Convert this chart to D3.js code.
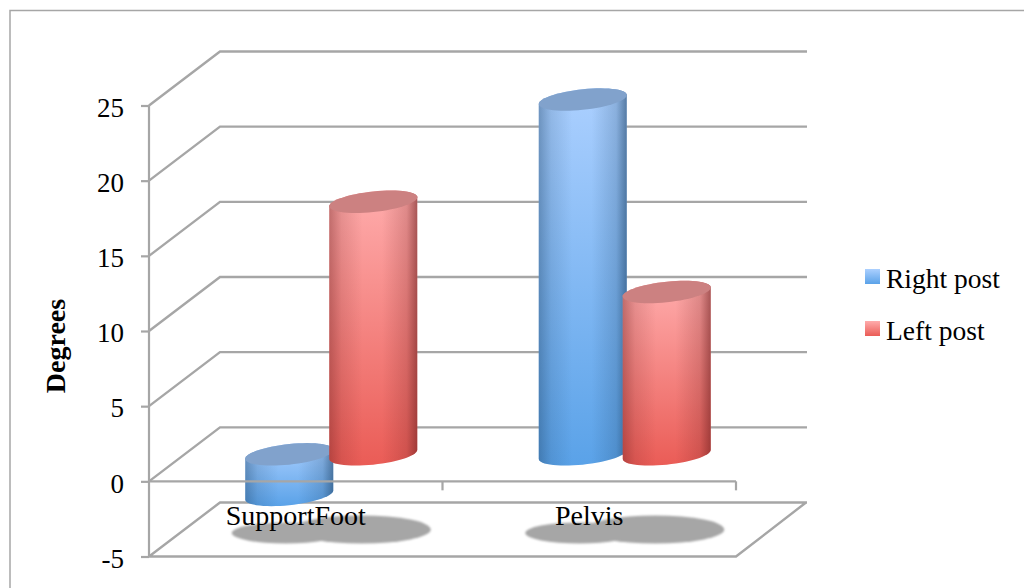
<!DOCTYPE html>
<html>
<head>
<meta charset="utf-8">
<script src="https://cdn.jsdelivr.net/npm/d3@7"></script>
<style>
  html, body { margin: 0; padding: 0; background: #fff; }
  svg { display: block; }
  text { font-family: "Liberation Serif", serif; fill: #000; }
</style>
</head>
<body>
<div id="chart"></div>
<script>
// Values in degrees for each body segment
const categories = ["SupportFoot", "Pelvis"];
const seriesNames = ["Right post", "Left post"];
const rightPost = [-2.7, 23.6];
const leftPost = [16.8, 10.8];
const yTicks = [-5, 0, 5, 10, 15, 20, 25];
const axisTitle = "Degrees";

const width = 1024, height = 588;
const gridColor = "#a6a6a6";

// Oblique projection: the front plane sits at depth 0, the back wall at depth 1
const depthX = 71, depthY = -54;
const y = d3.scaleLinear().domain([-5, 25]).range([556.5, 105.5]);
const x = d3.scaleBand().domain(categories).range([149, 736]);
const seriesOffset = d3.scalePoint().domain(seriesNames).range([-6.5, 77.5]);

const svg = d3.select("#chart").append("svg").attr("width", width).attr("height", height);
const defs = svg.append("defs");

// Vertical colour ramps for the cylinders, and edge-shading ramps per hue
function ramp(id, top, bottom) {
  const g = defs.append("linearGradient").attr("id", id)
    .attr("x1", 0).attr("y1", 0).attr("x2", 0).attr("y2", 1);
  g.append("stop").attr("offset", 0).attr("stop-color", top);
  g.append("stop").attr("offset", 1).attr("stop-color", bottom);
}
ramp("blueBody", "#acd0ff", "#5aa2e8");
ramp("redBody", "#ffacac", "#ea5c56");
function edgeRamp(id, color) {
  const g = defs.append("linearGradient").attr("id", id)
    .attr("x1", 0).attr("y1", 0).attr("x2", 1).attr("y2", 0);
  [[0, 0.42], [0.14, 0.16], [0.38, 0], [0.6, 0], [0.88, 0.22], [1, 0.6]].forEach(([o, a]) => {
    g.append("stop").attr("offset", o).attr("stop-color", color).attr("stop-opacity", a);
  });
}
edgeRamp("blueEdge", "#1f4468");
edgeRamp("redEdge", "#6e2020");
defs.append("filter").attr("id", "soft").attr("x", "-10%").attr("y", "-30%")
  .attr("width", "120%").attr("height", "160%")
  .append("feGaussianBlur").attr("stdDeviation", 0.9);

// Chart frame: top and left edges
svg.append("path").attr("d", "M10,588V10.5H1024")
  .attr("fill", "none").attr("stroke", gridColor).attr("stroke-width", 1.5);

// Gridlines along the side and back walls
const grid = svg.append("g").attr("fill", "none").attr("stroke", gridColor).attr("stroke-width", 2.4);
yTicks.forEach(t => {
  const y0 = y(t);
  const path = d3.path();
  path.moveTo(149, y0);
  path.lineTo(149 + depthX, y0 + depthY);
  path.lineTo(736 + depthX, y0 + depthY);
  if (t === -5) {
    path.moveTo(736 + depthX - 1, y0 + depthY);
    path.lineTo(736, y0);
    path.lineTo(149, y0);
  }
  grid.append("path").attr("d", path.toString());
});

// Vertical axis with tick marks
const yAxis = svg.append("g").attr("transform", "translate(149,0)")
  .call(d3.axisLeft(y).tickValues(yTicks).tickSize(8).tickPadding(17).tickFormat(d => String(d)));
yAxis.selectAll("line,path").attr("stroke", gridColor).attr("stroke-width", 2.2);
yAxis.select(".domain").attr("d", `M0,${y(-5)}V${y(25)}`);
yAxis.selectAll("text").attr("font-size", 27).attr("font-family", "Liberation Serif").attr("dy", "0.4em");

// Cast shadows on the floor
const shadowLayer = svg.append("g").attr("fill", "#a6a6a6").attr("filter", "url(#soft)");
categories.forEach(c => {
  const cx = x(c) + x.bandwidth() / 2;
  shadowLayer.append("ellipse").attr("cx", cx - 10).attr("cy", 533).attr("rx", 54).attr("ry", 10.5);
  shadowLayer.append("ellipse").attr("cx", cx + 66).attr("cy", 529.5).attr("rx", 69).attr("ry", 14);
});

// Cylinder: body between two skewed ellipses, with a flat-coloured cap on the value end
const rx = 44, ry = 10.3, tilt = 4.5;
const baseY = v => y(v) + depthY / 2;
function ellipsePoints(cx, yc) {
  return d3.range(0, 361, 6).map(a => {
    const r = a * Math.PI / 180;
    const px = rx * Math.cos(r);
    return [cx + px, yc + ry * Math.sin(r) - px / rx * tilt];
  });
}
function drawCylinder(g, cx, value, body, shade, cap) {
  const y0 = baseY(0), y1 = baseY(value);
  const topY = Math.min(y0, y1), botY = Math.max(y0, y1);
  const line = d3.line();
  // Upper half of the top ellipse, then lower half of the bottom one
  const outline = [...ellipsePoints(cx, topY).slice(30, 61), ...ellipsePoints(cx, botY).slice(0, 31)];
  const d = line(outline) + "Z";
  g.append("path").attr("d", d).attr("fill", `url(#${body})`);
  g.append("path").attr("d", d).attr("fill", `url(#${shade})`);
  g.append("path").attr("d", line(ellipsePoints(cx, topY)) + "Z").attr("fill", cap);
}
const bars = svg.append("g");
[[rightPost, "blueBody", "blueEdge", "#81a2cc"], [leftPost, "redBody", "redEdge", "#cc8181"]].forEach(([vals, body, shade, cap], s) => {
  vals.forEach((v, i) => {
    const cx = x(categories[i]) + x.bandwidth() / 2 + seriesOffset(seriesNames[s]);
    drawCylinder(bars, cx, v, body, shade, cap);
  });
});

// Front edge of the zero plane runs over the bars, with its category ticks
const zeroY = y(0);
const front = svg.append("g").attr("stroke", gridColor).attr("stroke-width", 2.2).attr("fill", "none");
front.append("line").attr("x1", 149).attr("x2", 736).attr("y1", zeroY).attr("y2", zeroY);
[x(categories[1]), x(categories[1]) + x.step()].forEach(px => {
  front.append("line").attr("x1", px).attr("x2", px).attr("y1", zeroY).attr("y2", zeroY + 9);
});

// Category labels
svg.append("g").selectAll("text").data(categories).join("text")
  .attr("x", d => x(d) + x.bandwidth() / 2)
  .attr("y", 525)
  .attr("text-anchor", "middle")
  .attr("font-size", 28)
  .text(d => d);

// Axis title
svg.append("text")
  .attr("transform", "translate(65,346) rotate(-90)")
  .attr("text-anchor", "middle")
  .attr("font-size", 28)
  .attr("font-weight", "bold")
  .text(axisTitle);

// Legend
const legend = svg.append("g");
seriesNames.forEach((name, i) => {
  const ly = 269 + i * 52;
  const lg = legend.append("g").attr("transform", `translate(865,${ly})`);
  lg.append("rect").attr("width", 15).attr("height", 15)
    .attr("fill", i === 0 ? "url(#blueBody)" : "url(#redBody)");
  lg.append("text").attr("x", 21).attr("y", 19).attr("font-size", 27.5).text(name);
});
</script>
</body>
</html>
